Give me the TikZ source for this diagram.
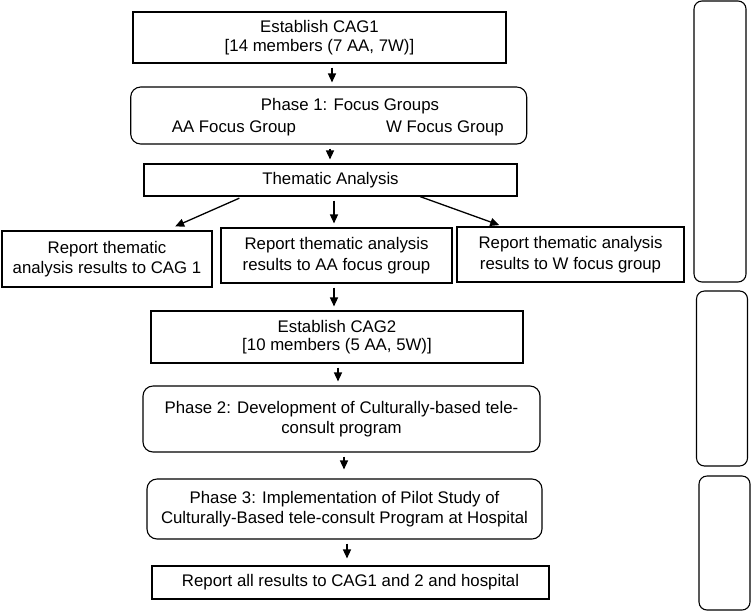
\documentclass[tikz,border=0pt]{standalone}
\usepackage{fontspec}
\setmainfont{Liberation Sans}
\usepackage{tikz}
\usetikzlibrary{positioning, arrows.meta}

\begin{document}
\begin{tikzpicture}[x=1pt, y=-1pt, line width=1.1pt,
  every node/.style={font=\fontsize{16.8}{20.5}\selectfont, align=center, inner sep=0pt},
  box node/.style={rectangle, draw},
  round node/.style={rectangle, draw, rounded corners=10pt},
  side node/.style={rectangle, draw, rounded corners=8pt},
  arr/.style={-{Triangle[length=9pt,width=8pt]}, line width=1.3pt, shorten <=4pt, shorten >=4pt}]

\useasboundingbox (0,0) rectangle (751,611);

% main column
\node[box node, minimum width=373pt, minimum height=51pt, font=\fontsize{16.8}{18.5}\selectfont] (cag1) at (319.5,37.5) {Establish CAG1\\{}[14 members (7 AA, 7W)]};
\node[round node, minimum width=396pt, minimum height=57pt] (ph1) at (328.7,115.5) {};
\node (ph1t) at (350,106) {Phase 1: Focus Groups};
\node (aafg) at (234,128) {AA Focus Group};
\node (wfg) at (445,128) {W Focus Group};
\node[box node, minimum width=373pt, minimum height=32pt] (them) at (330.5,180) {Thematic Analysis};

\node[box node, minimum width=210pt, minimum height=56pt] (rep1) at (107,259) {Report thematic\\analysis results to CAG 1};
\node[box node, minimum width=231pt, minimum height=55pt] (rep2) at (336.5,255.5) {Report thematic analysis\\results to AA focus group};
\node[box node, minimum width=227pt, minimum height=55pt] (rep3) at (570.5,254.5) {Report thematic analysis\\results to W focus group};

\node[box node, minimum width=372pt, minimum height=52pt, font=\fontsize{16.8}{18.5}\selectfont] (cag2) at (337,337) {Establish CAG2\\{}[10 members (5 AA, 5W)]};
\node[round node, minimum width=397pt, minimum height=66pt] (ph2) at (341.5,419) {Phase 2: Development of Culturally-based tele-\\consult program};
\node[round node, minimum width=395pt, minimum height=60pt] (ph3) at (344.5,509) {Phase 3: Implementation of Pilot Study of\\Culturally-Based tele-consult Program at Hospital};
\node[box node, minimum width=397pt, minimum height=33pt] (fin) at (350.5,582.5) {Report all results to CAG1 and 2 and hospital};

% side column
\node[side node, minimum width=52pt, minimum height=281pt] (sideA) at (720,141.5) {};
\node[side node, minimum width=51pt, minimum height=175pt] (sideB) at (722,378.5) {};
\node[side node, minimum width=51pt, minimum height=134pt] (sideC) at (724.5,543) {};

% arrows
\draw[arr] ([xshift=12.5pt]cag1.south) -- ([xshift=12.5pt]cag1.south |- ph1.north);
\draw[arr] ([xshift=1.3pt]ph1.south) -- ([xshift=1.3pt]ph1.south |- them.north);
\draw[arr, shorten >=10pt] ([xshift=-87.5pt]them.south) -- ([xshift=59pt]rep1.north);
\draw[arr] ([xshift=3.5pt]them.south) -- ([xshift=3.5pt]them.south |- rep2.north);
\draw[arr, shorten <=0pt] ([xshift=89.5pt]them.south) -- ([xshift=-67.5pt]rep3.north);
\draw[arr] ([xshift=-2.5pt]rep2.south) -- ([xshift=-2.5pt]rep2.south |- cag2.north);
\draw[arr] ([xshift=1pt]cag2.south) -- ([xshift=1pt]cag2.south |- ph2.north);
\draw[arr, shorten >=9pt] ([xshift=2.5pt]ph2.south) -- ([xshift=2.5pt]ph2.south |- ph3.north);
\draw[arr, shorten >=7pt] ([xshift=2.5pt]ph3.south) -- ([xshift=2.5pt]ph3.south |- fin.north);

\end{tikzpicture}
\end{document}
